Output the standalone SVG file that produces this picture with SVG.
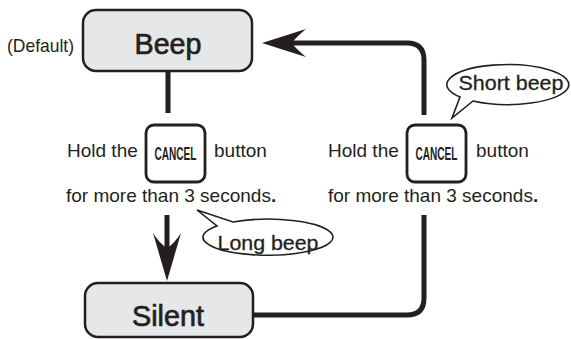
<svg xmlns="http://www.w3.org/2000/svg" width="571" height="339" viewBox="0 0 571 339">
<style>
.state{fill:#e6e7e8;stroke:#231f20;stroke-width:2.5}
.btn{fill:#fff;stroke:#231f20;stroke-width:2.8}
.big{font-family:"Liberation Sans",Arial,sans-serif;font-size:30px;fill:#231f20;stroke:#231f20;stroke-width:0.7;text-anchor:middle}
.txt{font-family:"Liberation Sans",Arial,sans-serif;font-size:19px;fill:#231f20}
.cap{font-family:"Liberation Sans",Arial,sans-serif;font-size:18px;font-weight:bold;fill:#231f20;text-anchor:middle}
.bub{fill:#fff;stroke:#231f20;stroke-width:1.6}
.bt{font-family:"Liberation Sans",Arial,sans-serif;font-size:21px;fill:#231f20;stroke:#231f20;stroke-width:0.3;text-anchor:middle}
.ln{fill:none;stroke:#231f20;stroke-width:5}
.ah{fill:#231f20}
.dot{font-weight:bold}
</style>
<g id="connectors">
<line class="ln" x1="168" y1="71" x2="168" y2="113"/>
<line class="ln" x1="167" y1="215" x2="167" y2="250"/>
<path class="ah" d="M167,281 L153,233 Q160,244 167,248 Q174,244 181,233 Z"/>
<path class="ln" d="M253,315 H407 Q424,315 424,298 V215"/>
<path class="ln" d="M424,115 V60 Q424,43 407,43 H292"/>
<path class="ah" d="M262,43 L306,29 Q295,38 292,43 Q295,48 306,57 Z"/>
</g>
<g id="default-label">
<text class="txt" x="7" y="52" textLength="67" lengthAdjust="spacingAndGlyphs">(Default)</text>
</g>
<g id="beep">
<rect class="state" x="83" y="10" width="169" height="61" rx="13"/>
<text class="big" x="168" y="54" textLength="67" lengthAdjust="spacingAndGlyphs">Beep</text>
</g>
<g id="silent">
<rect class="state" x="85" y="283" width="168" height="54" rx="13"/>
<text class="big" x="168" y="326" textLength="72" lengthAdjust="spacingAndGlyphs">Silent</text>
</g>
<g id="left-instruction">
<text class="txt" x="67" y="157">Hold the</text>
<rect class="btn" x="146" y="125" width="59" height="57" rx="8"/>
<text class="cap" transform="translate(175.5,160) scale(0.56,1)">CANCEL</text>
<text class="txt" x="214" y="157">button</text>
<text class="txt" x="66" y="202">for more than 3 seconds<tspan class="dot">.</tspan></text>
</g>
<g id="right-instruction">
<text class="txt" x="328" y="157">Hold the</text>
<rect class="btn" x="407" y="125" width="59" height="57" rx="8"/>
<text class="cap" transform="translate(436.5,160) scale(0.56,1)">CANCEL</text>
<text class="txt" x="476" y="157">button</text>
<text class="txt" x="328" y="202">for more than 3 seconds<tspan class="dot">.</tspan></text>
</g>
<g id="short-beep">
<path class="bub" d="M460,97 A61,20 0 1 1 473,101 L452,118 Z"/>
<text class="bt" x="511" y="90" textLength="105" lengthAdjust="spacingAndGlyphs">Short beep</text>
</g>
<g id="long-beep">
<path class="bub" d="M233,222 A65,18 0 1 1 217,226 L197,210 Z"/>
<text class="bt" x="268" y="250" textLength="101" lengthAdjust="spacingAndGlyphs">Long beep</text>
</g>
</svg>
